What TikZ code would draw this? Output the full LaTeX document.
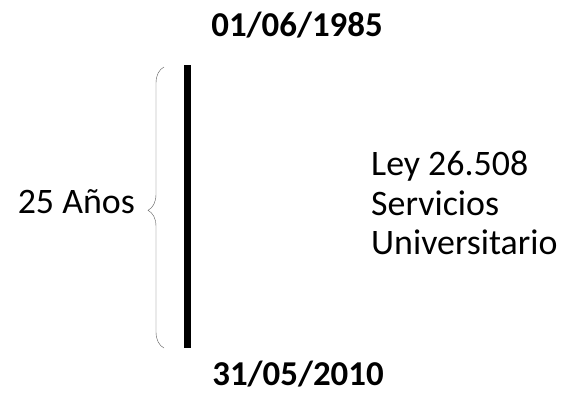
\documentclass[tikz,border=0pt]{standalone}
\usepackage{fontspec}
\setmainfont{Carlito}
\usetikzlibrary{decorations.pathreplacing}

\begin{document}
\begin{tikzpicture}[x=1bp,y=-1bp,
        date/.style={font=\fontsize{35}{40}\selectfont\bfseries},
        label/.style={font=\fontsize{36}{40}\selectfont}]
        \useasboundingbox (0,0) rectangle (562,393);

        \draw[line width=7bp] (187,65) coordinate (top) -- (187,348) coordinate (bottom);

        \node[date] (start) at (297,25) {01/06/1985};
        \node[date] (end) at (298,374) {31/05/2010};

        \draw[gray!70!black, decorate, decoration={brace, amplitude=16bp, aspect=0.49}]
            (164,348) coordinate (lo) -- (164,67) coordinate (hi);
        \node[label, anchor=base east, inner sep=0pt] (years) at (135,213) {25 Años};

        \node[label, anchor=west, align=left, inner sep=0pt] (law) at (371,203) {Ley 26.508\\Servicios\\Universitario};
    \end{tikzpicture}
\end{document}
